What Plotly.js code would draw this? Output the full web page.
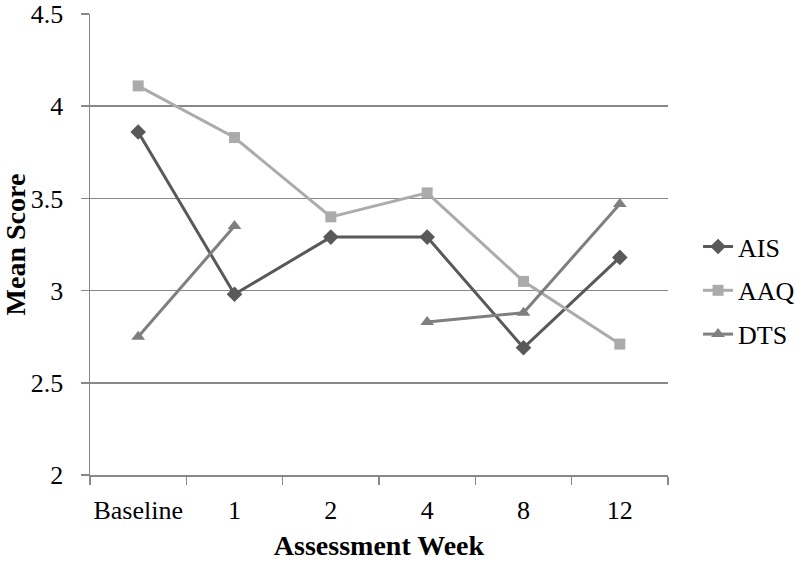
<!DOCTYPE html>
<html>
<head>
<meta charset="utf-8">
<script src="https://cdn.plot.ly/plotly-3.0.1.min.js"></script>
<style>html,body{margin:0;padding:0;background:#fff;}#chart{width:800px;height:561px;}</style>
</head>
<body>
<div id="chart"></div>
<script>
const weeks = ["Baseline", "1", "2", "4", "8", "12"];
const ais = [3.86, 2.98, 3.29, 3.29, 2.69, 3.18];
const aaq = [4.11, 3.83, 3.40, 3.53, 3.05, 2.71];
const dts = [2.75, 3.35, null, 2.83, 2.88, 3.47];
const yTicks = [2, 2.5, 3, 3.5, 4, 4.5];
const yTickText = ["2", "2.5", "3", "3.5", "4", "4.5"];

const font = "Liberation Serif";

function series(name, y, color, symbol, size, group) {
  return {
    type: "scatter", mode: "lines+markers", name: name, x: weeks, y: y,
    connectgaps: false, legendgroup: group,
    line: {color: color, width: 3},
    marker: {color: color, symbol: symbol, size: size}
  };
}

const data = [
  series("AIS", ais, "#595959", "diamond", 12, "g1"),
  series("AAQ", aaq, "#ABABAB", "square", 11, "g2"),
  series("DTS", dts, "#7F7F7F", "triangle-up", 12, "g3")
];

const layout = {
  width: 800, height: 561,
  margin: {l: 90, r: 132, t: 14, b: 86, autoexpand: false},
  paper_bgcolor: "#fff", plot_bgcolor: "#fff",
  font: {family: font, color: "#000", size: 26},
  showlegend: true,
  legend: {
    x: 1.052, xanchor: "left", y: 0.4, yanchor: "middle",
    traceorder: "grouped", tracegroupgap: 7,
    font: {family: font, size: 26, color: "#000"},
    bgcolor: "rgba(0,0,0,0)"
  },
  xaxis: {
    type: "category", categoryorder: "array", categoryarray: weeks,
    range: [-0.5, 5.5], autorange: false, tickangle: 0,
    tickson: "boundaries", ticks: "outside", ticklen: 8, tickcolor: "#888", tickwidth: 1.5,
    showline: true, linecolor: "#888", linewidth: 1.5,
    showgrid: false, zeroline: false,
    tickfont: {family: font, size: 26, color: "#000"},
    ticklabelstandoff: 11,
    title: {text: "<b>Assessment Week</b>", font: {family: font, size: 28, color: "#000"}, standoff: 16},
    fixedrange: true
  },
  yaxis: {
    range: [2, 4.5], autorange: false, tickvals: yTicks, ticktext: yTickText,
    ticks: "outside", ticklen: 8, tickcolor: "#888", tickwidth: 1.5,
    showline: true, linecolor: "#888", linewidth: 1.5,
    showgrid: true, gridcolor: "#888", gridwidth: 1.5, zeroline: false,
    tickfont: {family: font, size: 26, color: "#000"},
    ticklabelstandoff: 12, ticklabeloverflow: "allow",
    title: {text: "<b>Mean Score</b>", font: {family: font, size: 28, color: "#000"}, standoff: 2},
    fixedrange: true
  }
};

Plotly.newPlot("chart", data, layout, {displayModeBar: false, staticPlot: true});
</script>
</body>
</html>
